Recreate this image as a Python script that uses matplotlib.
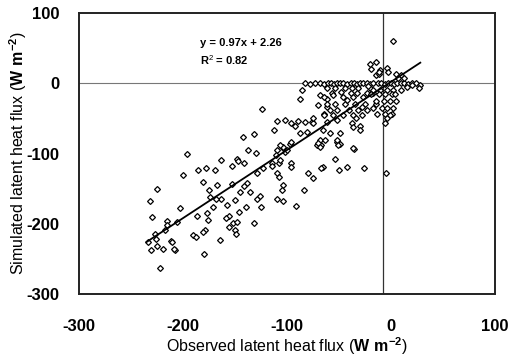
import matplotlib.pyplot as plt

plt.rcParams['font.family'] = ['Liberation Sans', 'DejaVu Sans']
plt.rcParams['mathtext.fontset'] = 'custom'
plt.rcParams['mathtext.rm'] = 'Liberation Sans'
plt.rcParams['mathtext.bf'] = 'Liberation Sans:bold'
plt.rcParams['axes.unicode_minus'] = False

# observed vs simulated latent heat flux (W m-2)
low_obs = [-225, -232, -230, -215, -215, -217, -227, -226, -234, -231, -225, -219, -212, -208, -222, -203, -206, -211, -209]
low_sim = [-150, -167, -190, -196, -202, -209, -214, -221, -226, -237, -232, -236, -224, -237, -263, -178, -197, -226, -236]

mid_obs = [-142, -132, -196, -200, -186, -178, -169, -164, -153, -148, -141, -181, -175, -167, -164, -153, -145, -139, -136, -129,
           -115, -110, -105, -97, -108, -96, -110, -108, -104, -110, -104, -91, -84, -80, -75, -71, -66, -54, -50, -42,
           -52, -49, -36, -26, -5, -187, -177, -171, -176, -179, -190, -188, -165, -158, -156, -159, -150, -140, -146, -152,
           -156, -150, -149, -132, -129, -126, -125, -180, -138, -130, -147, -141, -174, -168, -148, -181, -123]
mid_sim = [-76, -72, -100, -131, -123, -120, -124, -109, -118, -107, -113, -141, -152, -144, -164, -143, -154, -142, -154, -127,
           -113, -95, -90, -86, -114, -114, -128, -133, -145, -164, -168, -175, -152, -128, -135, -88, -119, -107, -123, -119,
           -83, -86, -94, -120, -128, -189, -185, -176, -195, -209, -216, -219, -223, -173, -189, -192, -166, -176, -183, -199,
           -204, -209, -215, -199, -165, -161, -176, -243, -95, -99, -110, -146, -162, -165, -197, -211, -120]

up_obs = [-86, -88, -68, -62, -70, -62, -124, -65, -110, -102, -96, -92, -90, -83, -76, -113, -88, -81, -68, -67,
          -70, -68, -96, -104, -107, -111, -102, -100, -107, -115, -96, -67, -105, -57, -75, -75]
up_sim = [-9, -22, -17, -22, -31, -34, -37, -43, -53, -52, -56, -60, -53, -55, -55, -66, -71, -69, -81, -88,
          -85, -91, -83, -91, -88, -102, -98, -95, -109, -118, -119, -121, -152, -14, -57, -50]

zero_obs = [-83, -78, -73, -68, -65, -61, -58, -55, -52, -49, -46, -42, -39, -36, -33, -30, -27, -23, -20, -17,
            -13, -10, -6, -3, 0, 3, 6, 9, 12, 16, 20, 24, 28]
zero_sim = [0, -1, 0, 0, -1, 0, 0, -1, 0, 0, 0, -1, 0, 0, -1, 0, 0, 0, -1, 0,
            0, 0, -1, 0, 0, -1, 0, 0, 0, -1, 0, 0, -2]

dense_obs = [-19, -15, -12, -62, -54, -44, -38, -32, -20, -39, -33, -23, -17, -65, -46, -37, -27, -62, -54, -44,
             -35, -25, -15, -59, -52, -41, -32, -23, -65, -56, -46, -37, -28, -62, -52, -38, -30, -37, -66, -59,
             -49, -30, -64, -52, -51, -37, -48, -42, -28, -22, -56, -34]
dense_sim = [20, 12, 14, -7, -7, -7, -7, -7, -7, -14, -14, -14, -14, -20, -20, -20, -20, -29, -29, -29,
             -29, -29, -29, -38, -38, -38, -38, -38, -45, -45, -45, -45, -45, -55, -52, -57, -60, -62, -67, -70,
             -71, -67, -81, -81, -88, -92, -12, -24, -33, -4, -16, -50]

near_obs = [2, -20, -15, -11, -4, -12, -3, 5, 9, 12, 7, -17, -11, -4, 2, 9, -19, -12, -6, 1,
            4, -15, -7, -1, 5, -17, -9, -4, 2, -14, -6, 1, -4, -1, -6, 27, 15, 20]
near_sim = [61, 28, 30, 19, 22, 16, 16, 14, 12, 7, 7, -10, -10, -10, -10, -10, -15, -15, -15, -15,
            -15, -25, -25, -25, -25, -35, -35, -35, -35, -43, -43, -43, -50, -45, -57, -7, -5, -3]

obs = low_obs + mid_obs + up_obs + zero_obs + dense_obs + near_obs
sim = low_sim + mid_sim + up_sim + zero_sim + dense_sim + near_sim

slope, intercept = 0.97, 2.26
fit_x = [-235, 28]
fit_y = [slope * v + intercept for v in fit_x]

fig = plt.figure(figsize=(5.10, 3.64), dpi=100)
ax = fig.add_axes([0.155, 0.192, 0.816, 0.772])

ax.axhline(0, color='#777777', linewidth=0.8, zorder=1)
ax.axvline(-8, color='#333333', linewidth=0.9, zorder=1)
ax.plot(obs, sim, linestyle='none', marker='D', markersize=3.0,
        markerfacecolor='white', markeredgecolor='black', markeredgewidth=0.9, zorder=2)
ax.plot(fit_x, fit_y, color='black', linewidth=1.3, zorder=3)

ax.text(-184, 58, 'y = 0.97x + 2.26', fontsize=8, fontweight='bold', va='center')
ax.text(-184, 33, r'R$^{2}$ = 0.82', fontsize=8, fontweight='bold', va='center')

ax.set_xlim(-300, 100)
ax.set_ylim(-300, 100)
ax.set_xticks([-300, -200, -100, 0, 100])
ax.set_yticks([-300, -200, -100, 0, 100])
ax.tick_params(length=0, labelsize=12)
ax.tick_params(axis='x', pad=18)
ax.tick_params(axis='y', pad=14)
for lab in ax.get_xticklabels() + ax.get_yticklabels():
    lab.set_fontweight('bold')
for sp in ax.spines.values():
    sp.set_linewidth(1.4)
    sp.set_color('#222222')

ax.set_xlabel(r'Observed latent heat flux ($\mathbf{W\ m^{-2}}$)', fontsize=11.5, labelpad=1)
ax.set_ylabel(r'Simulated latent heat flux ($\mathbf{W\ m^{-2}}$)', fontsize=11.5, labelpad=-2)

fig.savefig('out.png', dpi=100)
